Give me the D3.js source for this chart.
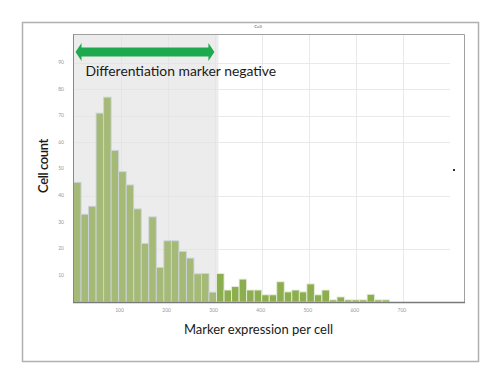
<!DOCTYPE html>
<html>
<head>
<meta charset="utf-8">
<script src="https://cdn.jsdelivr.net/npm/d3@7"></script>
<style>
  body { margin: 0; background: #fff; }
  svg { display: block; font-family: Lato, "Open Sans", sans-serif; }
</style>
</head>
<body>
<svg id="chart" width="500" height="377"></svg>
<script>
// histogram bins: 16 units wide starting at 0
const binWidth = 16;
const counts = [45, 33, 36, 71, 77, 57, 49, 44, 35, 22, 32, 13, 23, 23, 19, 16.5, 10.6, 10.7, 3.7, 10.7,
	4.5, 5.8, 8.6, 4.5, 4.5, 2.7, 2.7, 7.6, 3.8, 4.5, 3.8, 6.8, 2.7, 4.5, 0.8, 1.9, 0.8, 0.8, 0.8, 2.9, 0.8, 0.8];
const xTicks = [100, 200, 300, 400, 500, 600, 700];
const yTicks = [10, 20, 30, 40, 50, 60, 70, 80, 90];
const yGrid = [20, 40, 60, 70, 80, 90];
const negativeLimit = 308; // end of the "negative" gate

const svg = d3.select("#chart");
const plotLeft = 73, plotRight = 464, plotTop = 34, plotBottom = 302;

const x = d3.scaleLinear().domain([0, 830]).range([plotLeft + 0.5, plotRight]);
const y = d3.scaleLinear().domain([0, 100.75]).range([plotBottom, plotTop]);

// outer frame
svg.append("rect")
	.attr("x", 22.5).attr("y", 22.5).attr("width", 456).attr("height", 339)
	.attr("fill", "none").attr("stroke", "#b0b0b0").attr("stroke-width", 1.5);

// tiny header text
svg.append("text").attr("x", 258).attr("y", 28)
	.attr("text-anchor", "middle").attr("font-size", 4.5).attr("fill", "#555").text("Cell");

// shaded gate region
svg.append("rect")
	.attr("x", plotLeft).attr("y", plotTop)
	.attr("width", x(negativeLimit) - plotLeft).attr("height", plotBottom - plotTop)
	.attr("fill", "#ececed");

// grid
const grid = svg.append("g").attr("stroke", "#e3e3e3").attr("stroke-width", 0.8);
grid.selectAll("line.v").data(xTicks).enter().append("line")
	.attr("x1", d => Math.round(x(d)) + 0.5).attr("x2", d => Math.round(x(d)) + 0.5)
	.attr("y1", plotTop).attr("y2", plotBottom);
grid.selectAll("line.h").data(yGrid).enter().append("line")
	.attr("x1", plotLeft).attr("x2", 450)
	.attr("y1", d => Math.round(y(d)) + 0.5).attr("y2", d => Math.round(y(d)) + 0.5);

// bars
svg.append("g").selectAll("rect").data(counts).enter().append("rect")
	.attr("x", (d, i) => x(i * binWidth))
	.attr("width", x(binWidth) - x(0))
	.attr("y", d => y(d))
	.attr("height", d => plotBottom - y(d))
	.attr("fill", (d, i) => (i + 0.5) * binWidth < negativeLimit ? "#a6ba78" : "#8dae4e")
	.attr("stroke", (d, i) => (i + 0.5) * binWidth < negativeLimit ? "#cdd3dc" : "#e6ecdc")
	.attr("stroke-width", 0.9);

// plot frame and axes
svg.append("path")
	.attr("d", `M${plotLeft},${plotTop + 0.5}H${plotRight + 0.5}V${plotBottom}`)
	.attr("fill", "none").attr("stroke", "#a0a0a0").attr("stroke-width", 1);
svg.append("line")
	.attr("x1", plotLeft + 0.5).attr("x2", plotLeft + 0.5).attr("y1", plotTop).attr("y2", plotBottom)
	.attr("stroke", "#8a8a8a").attr("stroke-width", 1);
svg.append("line")
	.attr("x1", plotLeft).attr("x2", plotRight + 1).attr("y1", plotBottom + 0.5).attr("y2", plotBottom + 0.5)
	.attr("stroke", "#7a7a7a").attr("stroke-width", 1.5);

// tick labels
svg.append("g").selectAll("text").data(xTicks).enter().append("text")
	.attr("x", d => x(d) - 1).attr("y", 312)
	.attr("text-anchor", "middle").attr("font-size", 5).attr("fill", "#999")
	.text(d => d);
svg.append("g").selectAll("text").data(yTicks).enter().append("text")
	.attr("x", 64).attr("y", d => y(d) + 1.5)
	.attr("text-anchor", "end").attr("font-size", 5).attr("fill", "#999")
	.text(d => d);

// small marker on right edge
svg.append("rect").attr("x", 453).attr("y", 169).attr("width", 2).attr("height", 2).attr("fill", "#333");

// double headed arrow over gate
const ax0 = x(0) + 2, ax1 = x(negativeLimit) - 4, ay = 52;
const hw = 9, hl = 6, bw = 4.5;
svg.append("path")
	.attr("d", `M${ax0},${ay} L${ax0 + hl},${ay - hw} V${ay - bw} H${ax1 - hl} V${ay - hw} L${ax1},${ay}
		L${ax1 - hl},${ay + hw} V${ay + bw} H${ax0 + hl} V${ay + hw} Z`)
	.attr("fill", "#1fa94f");

svg.append("text").attr("x", 85.5).attr("y", 76)
	.attr("font-size", 13.9).attr("fill", "#1a1a1a")
	.text("Differentiation marker negative");

// axis titles
svg.append("text")
	.attr("transform", "translate(48,166) rotate(-90)")
	.attr("text-anchor", "middle").attr("font-size", 13).attr("font-weight", 600)
	.attr("letter-spacing", -0.4).attr("fill", "#1a1a1a")
	.text("Cell count");
svg.append("text")
	.attr("x", 258.5).attr("y", 334)
	.attr("text-anchor", "middle").attr("font-size", 13).attr("fill", "#1a1a1a")
	.text("Marker expression per cell");
</script>
</body>
</html>
